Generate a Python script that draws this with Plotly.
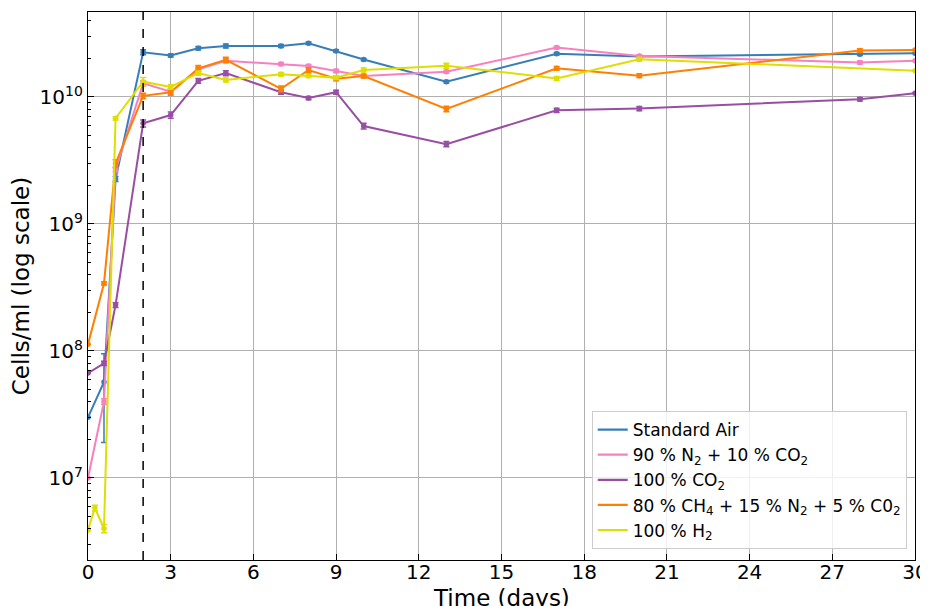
import plotly.graph_objects as go

# ---- data ----
days_main = [0, 0.58, 1, 2, 3, 4, 5, 7, 8, 9, 10, 13, 17, 20, 28, 30]
days_h2 = [0, 0.25, 0.58, 1, 2, 3, 4, 5, 7, 8, 9, 10, 13, 17, 20, 30]

air = [3.0e7, 5.7e7, 2.26e9, 2.25e10, 2.12e10, 2.42e10, 2.52e10, 2.52e10,
       2.65e10, 2.30e10, 1.97e10, 1.32e10, 2.19e10, 2.08e10, 2.17e10, 2.21e10]
air_err = [0, 3.8e7, 1.0e8, 1.0e9, 6e8, 8e8, 9e8, 7e8,
           6e8, 5e8, 4e8, 3e8, 5e8, 4e8, 5e8, 0]

n2co2 = [1.0e7, 4.0e7, 2.66e9, 1.28e10, 1.10e10, 1.65e10, 1.93e10, 1.82e10,
         1.75e10, 1.60e10, 1.46e10, 1.58e10, 2.45e10, 2.10e10, 1.87e10, 1.93e10]
n2co2_err = [0, 2e6, 1e8, 6e8, 5e8, 6e8, 7e8, 5e8,
             5e8, 5e8, 4e8, 4e8, 6e8, 5e8, 5e8, 0]

co2 = [6.7e7, 8.0e7, 2.3e8, 6.2e9, 7.2e9, 1.34e10, 1.54e10, 1.09e10,
       9.8e9, 1.09e10, 5.9e9, 4.25e9, 7.85e9, 8.1e9, 9.6e9, 1.07e10]
co2_err = [0, 3e6, 1e7, 4e8, 4e8, 6e8, 7e8, 4e8,
           3e8, 4e8, 3e8, 2e8, 3e8, 3e8, 3e8, 0]

ch4 = [1.13e8, 3.4e8, 3.0e9, 1.02e10, 1.09e10, 1.68e10, 1.96e10, 1.16e10,
       1.63e10, 1.39e10, 1.46e10, 8.05e9, 1.68e10, 1.47e10, 2.32e10, 2.34e10]
ch4_err = [0, 1e7, 2e8, 5e8, 6e8, 9e8, 9e8, 6e8,
           7e8, 5e8, 5e8, 4e8, 6e8, 5e8, 8e8, 0]

h2 = [3.9e6, 5.8e6, 4.0e6, 6.8e9, 1.32e10, 1.20e10, 1.54e10, 1.36e10,
      1.51e10, 1.47e10, 1.42e10, 1.63e10, 1.76e10, 1.40e10, 1.98e10, 1.61e10]
h2_err = [0, 3e5, 3e5, 2e8, 1.0e9, 5e8, 6e8, 5e8,
          5e8, 5e8, 5e8, 6e8, 8e8, 5e8, 7e8, 0]

names = ["Standard Air",
         "90 % N<sub>2</sub> + 10 % CO<sub>2</sub>",
         "100 % CO<sub>2</sub>",
         "80 % CH<sub>4</sub> + 15 % N<sub>2</sub> + 5 % C0<sub>2</sub>",
         "100 % H<sub>2</sub>"]
colors = ["#377eb8", "#f781bf", "#984ea3", "#ff7f00", "#dede00"]
xs = [days_main, days_main, days_main, days_main, days_h2]
ys = [air, n2co2, co2, ch4, h2]
errs = [air_err, n2co2_err, co2_err, ch4_err, h2_err]

y_tickvals = [1e7, 1e8, 1e9, 1e10]
y_ticktext = ["10<sup>7</sup>", "10<sup>8</sup>", "10<sup>9</sup>", "10<sup>10</sup>"]
x_tickvals = [0, 3, 6, 9, 12, 15, 18, 21, 24, 27, 30]
minor_vals = [m * 10 ** e for e in range(6, 11) for m in range(2, 10)]

fig = go.Figure()
for x, y, e, c in zip(xs, ys, errs, colors):
    fig.add_trace(go.Scatter(
        x=x, y=y, mode="lines+markers", showlegend=False,
        line=dict(color=c, width=2),
        marker=dict(color=c, size=5.5, symbol="circle"),
        error_y=dict(type="data", array=e, visible=True, color=c,
                     thickness=1.5, width=3),
    ))
for n, c in zip(names, colors):
    fig.add_trace(go.Scatter(x=[None], y=[None], mode="lines", name=n,
                             line=dict(color=c, width=2.2)))

fig.add_shape(type="line", xref="x", yref="paper", x0=2, x1=2, y0=0, y1=1,
              line=dict(color="black", width=1.5, dash="dash"))

# x-axis title placed as an annotation so it can sit below the margin edge
fig.add_annotation(text="Time (days)", xref="paper", yref="paper", x=0.5, y=0,
                   xanchor="center", yanchor="top", yshift=-23, showarrow=False,
                   font=dict(size=23, family="DejaVu Sans", color="black"))

axis_font = dict(family="DejaVu Sans", size=20, color="black")
# page body has an 8px default margin, so the figure is sized to fit the window
fig.update_layout(
    width=920, height=598,
    margin=dict(l=80, r=13, t=4, b=46),
    paper_bgcolor="white", plot_bgcolor="white",
    font=dict(family="DejaVu Sans", color="black"),
    legend=dict(x=0.99, y=0.02, xanchor="right", yanchor="bottom",
                bgcolor="rgba(255,255,255,0.8)", bordercolor="#cccccc",
                borderwidth=1, font=dict(size=17, family="DejaVu Sans")),
    xaxis=dict(range=[0, 30], tickvals=x_tickvals, ticks="inside", ticklen=6,
               tickcolor="black", tickfont=axis_font, showline=True,
               linecolor="black", linewidth=1.2, mirror=True, automargin=False,
               ticklabelstandoff=-6,
               showgrid=True, gridcolor="#b0b0b0", gridwidth=1.2, zeroline=False),
    yaxis=dict(type="log", range=[6.354, 10.669], tickmode="array",
               tickvals=y_tickvals, ticktext=y_ticktext, ticks="inside",
               ticklen=6, tickcolor="black", tickfont=axis_font, showline=True,
               linecolor="black", linewidth=1.2, mirror=True, automargin=False,
               showgrid=True, gridcolor="#b0b0b0", gridwidth=1.2, zeroline=False,
               minor=dict(tickmode="array", tickvals=minor_vals, ticks="inside",
                          ticklen=3, tickcolor="black", showgrid=False),
               title=dict(text="Cells/ml (log scale)", font=dict(size=23, family="DejaVu Sans"),
                          standoff=4)),
)

fig.write_html("out.html")
